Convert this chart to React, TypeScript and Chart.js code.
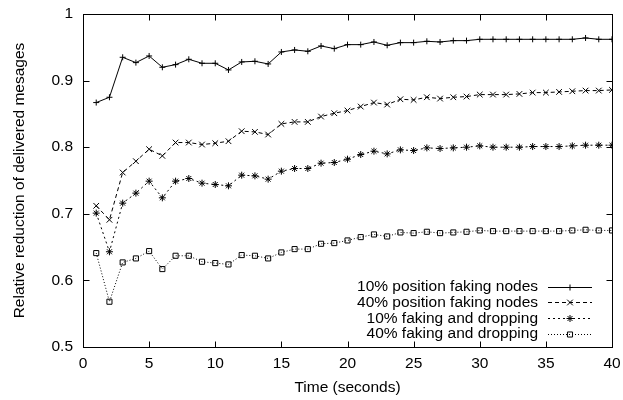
import React, { useEffect, useRef } from "react";
import { Chart, registerables } from "chart.js";
import { drawPoint } from "chart.js/helpers";

Chart.register(...registerables);

const timeSeconds = [1, 2, 3, 4, 5, 6, 7, 8, 9, 10, 11, 12, 13, 14, 15, 16, 17, 18, 19, 20, 21, 22, 23, 24, 25, 26, 27, 28, 29, 30, 31, 32, 33, 34, 35, 36, 37, 38, 39, 40];

const pos10 = [0.867, 0.875, 0.935, 0.927, 0.937, 0.920, 0.924, 0.932, 0.926, 0.926, 0.916, 0.928, 0.929, 0.925, 0.943, 0.946, 0.944, 0.952, 0.948, 0.954, 0.954, 0.958, 0.953, 0.957, 0.957, 0.959, 0.958, 0.960, 0.960, 0.962, 0.962, 0.962, 0.962, 0.962, 0.962, 0.962, 0.962, 0.964, 0.962, 0.962];
const pos40 = [0.712, 0.691, 0.762, 0.779, 0.797, 0.787, 0.807, 0.807, 0.804, 0.806, 0.809, 0.824, 0.823, 0.819, 0.835, 0.838, 0.838, 0.846, 0.851, 0.855, 0.861, 0.867, 0.864, 0.872, 0.871, 0.875, 0.873, 0.875, 0.876, 0.879, 0.879, 0.879, 0.880, 0.882, 0.882, 0.883, 0.884, 0.885, 0.885, 0.886];
const drop10 = [0.701, 0.643, 0.716, 0.731, 0.749, 0.724, 0.749, 0.753, 0.746, 0.744, 0.742, 0.758, 0.757, 0.752, 0.764, 0.768, 0.768, 0.776, 0.777, 0.782, 0.789, 0.794, 0.790, 0.796, 0.795, 0.799, 0.798, 0.799, 0.800, 0.802, 0.800, 0.800, 0.800, 0.801, 0.801, 0.801, 0.802, 0.803, 0.803, 0.803];
const drop40 = [0.641, 0.568, 0.627, 0.633, 0.644, 0.617, 0.637, 0.637, 0.628, 0.626, 0.624, 0.638, 0.637, 0.633, 0.642, 0.647, 0.647, 0.655, 0.656, 0.660, 0.665, 0.669, 0.666, 0.672, 0.671, 0.673, 0.671, 0.672, 0.673, 0.675, 0.674, 0.674, 0.674, 0.674, 0.674, 0.674, 0.675, 0.676, 0.675, 0.675];

const seriesLabels = [
  "10% position faking nodes",
  "40% position faking nodes",
  "10% faking and dropping",
  "40% faking and dropping",
];

const xTitle = "Time (seconds)";
const yTitle = "Relative reduction of delivered mesages";

const FONT = "'Liberation Sans', Arial, Helvetica, sans-serif";
const FS = 15.5;

const toPoints = (ys: number[]) => ys.map((y, i) => ({ x: timeSeconds[i], y }));

const framePlugin = {
  id: "frame",
  afterDatasetsDraw(chart: any) {
    const { ctx, chartArea: a, scales } = chart;
    const xs = scales.x;
    const ys = scales.y;
    const L = Math.round(a.left) + 0.5;
    const R = Math.round(a.right) + 0.5;
    const T = Math.round(a.top) + 0.5;
    const B = Math.round(a.bottom) + 0.5;
    const tl = 6;
    ctx.save();
    ctx.strokeStyle = "#000";
    ctx.lineWidth = 1;
    ctx.setLineDash([]);
    ctx.beginPath();
    xs.ticks.forEach((t: any) => {
      const px = Math.round(xs.getPixelForValue(t.value)) + 0.5;
      ctx.moveTo(px, B);
      ctx.lineTo(px, B - tl);
      ctx.moveTo(px, T);
      ctx.lineTo(px, T + tl);
    });
    ys.ticks.forEach((t: any) => {
      const py = Math.round(ys.getPixelForValue(t.value)) + 0.5;
      ctx.moveTo(L, py);
      ctx.lineTo(L + tl, py);
      ctx.moveTo(R, py);
      ctx.lineTo(R - tl, py);
    });
    ctx.stroke();
    ctx.strokeRect(L, T, R - L, B - T);
    ctx.restore();
  },
};

const legendPlugin = {
  id: "keyBox",
  afterDatasetsDraw(chart: any) {
    const { ctx, chartArea: a } = chart;
    const ds = chart.data.datasets;
    const rowH = 15.6;
    const baseY = a.bottom - 13.5 - (ds.length - 1) * rowH;
    const textRight = a.right - 74;
    const lineL = a.right - 64;
    const lineR = a.right - 20;
    ctx.save();
    ctx.font = `${FS}px ${FONT}`;
    ctx.textAlign = "right";
    ctx.textBaseline = "middle";
    ds.forEach((d: any, i: number) => {
      const y = baseY + i * rowH;
      ctx.fillStyle = "#000";
      ctx.fillText(d.label, textRight, y + 0.5);
      ctx.strokeStyle = "#000";
      ctx.lineWidth = 1;
      ctx.setLineDash(d.borderDash || []);
      ctx.beginPath();
      ctx.moveTo(lineL, Math.round(y) + 0.5);
      ctx.lineTo(lineR, Math.round(y) + 0.5);
      ctx.stroke();
      ctx.setLineDash([]);
      ctx.fillStyle = "rgba(0,0,0,0)";
      drawPoint(ctx, { pointStyle: d.pointStyle, rotation: 0, radius: d.pointRadius, borderWidth: 1 }, (lineL + lineR) / 2, Math.round(y) + 0.5);
    });
    ctx.restore();
  },
};

export default function App() {
  const ref = useRef<HTMLCanvasElement | null>(null);

  useEffect(() => {
    if (!ref.current) return;
    Chart.defaults.font.family = FONT;
    Chart.defaults.color = "#000";
    const common = {
      borderColor: "#000",
      borderWidth: 1,
      pointBorderColor: "#000",
      pointBackgroundColor: "rgba(0,0,0,0)",
      pointBorderWidth: 1,
      pointHoverRadius: 3,
      fill: false,
      tension: 0,
    };
    const chart = new Chart(ref.current, {
      type: "line",
      data: {
        datasets: [
          { ...common, label: seriesLabels[0], data: toPoints(pos10), pointStyle: "cross", pointRadius: 3, borderDash: [] },
          { ...common, label: seriesLabels[1], data: toPoints(pos40), pointStyle: "crossRot", pointRadius: 4, borderDash: [4, 3] },
          { ...common, label: seriesLabels[2], data: toPoints(drop10), pointStyle: "star", pointRadius: 3.5, borderDash: [2, 3] },
          { ...common, label: seriesLabels[3], data: toPoints(drop40), pointStyle: "rect", pointRadius: 3.6, borderDash: [1, 2] },
        ],
      },
      options: {
        animation: false,
        responsive: false,
        events: [],
        layout: { padding: { left: 0, right: 11, top: 14, bottom: 0 } },
        plugins: { legend: { display: false }, tooltip: { enabled: false } },
        scales: {
          x: {
            type: "linear",
            min: 0,
            max: 40,
            grid: { display: false, drawTicks: false },
            border: { display: false },
            ticks: { stepSize: 5, padding: 7, font: { size: FS }, color: "#000", maxRotation: 0 },
            title: { display: true, text: xTitle, font: { size: FS }, color: "#000", padding: { top: 3, bottom: 3 } },
            afterFit: (s: any) => {
              s.height = 53;
              s.paddingLeft = 0;
              s.paddingRight = 0;
            },
          },
          y: {
            type: "linear",
            min: 0.5,
            max: 1,
            grid: { display: false, drawTicks: false },
            border: { display: false },
            ticks: {
              stepSize: 0.1,
              padding: 10,
              font: { size: FS },
              color: "#000",
              callback: (v: any) => (Math.abs(v - 1) < 1e-9 ? "1" : Number(v).toFixed(1)),
            },
            title: { display: true, text: yTitle, font: { size: FS }, color: "#000", padding: { top: 10, bottom: 10 } },
            afterFit: (s: any) => {
              s.width = 83;
              s.paddingTop = 0;
              s.paddingBottom = 0;
            },
          },
        },
      },
      plugins: [framePlugin, legendPlugin],
    } as any);
    return () => chart.destroy();
  }, []);

  return (
    <div style={{ position: "absolute", left: 0, top: 0, width: 623, height: 400, background: "#fff" }}>
      <canvas ref={ref} width={623} height={400} style={{ display: "block", width: 623, height: 400 }} />
    </div>
  );
}
